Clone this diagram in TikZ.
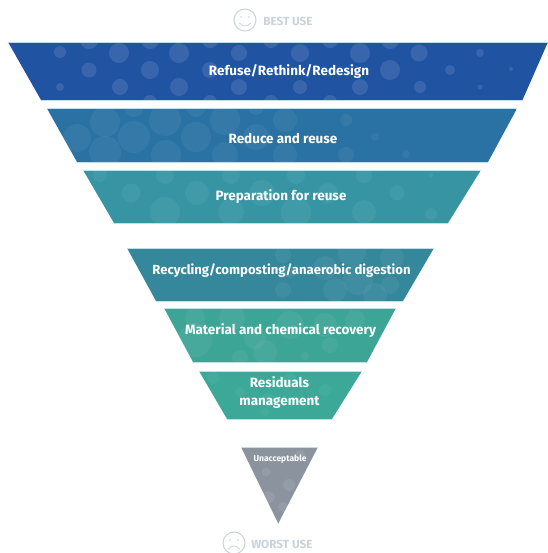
\documentclass[tikz,border=0pt]{standalone}
\usepackage{fontspec}
\setmainfont{Fira Sans}
\definecolor{tone1}{HTML}{2153A3}
\definecolor{tone2}{HTML}{2A72A3}
\definecolor{tone3}{HTML}{3795A3}
\definecolor{tone4}{HTML}{35879B}
\definecolor{tone5}{HTML}{3DA596}
\definecolor{tone6}{HTML}{3BA898}
\definecolor{tone7}{HTML}{8B949E}
\definecolor{edgelight}{HTML}{BFE0EA}
\definecolor{mutedgray}{HTML}{CBD3DA}
\tikzset{
  bubble/.style={fill=white,fill opacity=#1,draw=none},
  bubble/.default=0.10,
  tier/.style={text=white,font=\bfseries\fontsize{10.1pt}{13pt}\selectfont,align=center,inner sep=0pt},
  facering/.style={draw=mutedgray,line width=0.75pt},
  facestroke/.style={draw=mutedgray,line width=0.6pt,line cap=round},
  usetag/.style={text=mutedgray,font=\bfseries\fontsize{8.8pt}{9pt}\selectfont,inner sep=0pt,anchor=west},
  rimline/.style={draw=edgelight,line width=0.6pt}
}
\newcommand{\tierband}[9]{%
  \begin{scope}
    \clip (#3,#2) -- (#4,#2) -- (#7,#5) -- (#6,#5) -- cycle;
    \fill[#1] (#3,#2) rectangle (#4,#5);
    \foreach \bx/\by/\br in {#8} {\fill[bubble=#9] (\bx,\by) circle[radius=\br];}
  \end{scope}
  \draw[rimline] (#3,#2) -- (#4,#2);
  \draw[rimline] (#6,#5) -- (#7,#5);
}
\begin{document}
\begin{tikzpicture}[x=0.75pt,y=-0.75pt]
\useasboundingbox (0,0) rectangle (548,553);
\fill[white] (0,0) rectangle (548,553);

\tierband{tone1}{42}{8}{548}{100}{41}{522.5}{60/52/6,119/53/10,179/53/10,239/53/8,300/53/9,360/53/10,419/53/8.5,480/53/4,89/70/7.5,150/70/9,210/70/8,390/70/10,450/70/5,511/69/2,60/87/4,120/87/8,179/87/9,239/87/8,300/87/7,360/87/8,420/87/6,480/87/2.5,89/40/9,150/40/9,210/40/8,271/40/8,330/40/8,390/40/9,150/102/7,210/102/7,271/102/7,330/102/7}{0.11}

\tierband{tone2}{108.5}{47}{517}{162}{77}{488}{77/138/14,105/122/15,134/137/16,165/120/16,196/137/15,225/120/15,256/137/13,285/120/12,346/120/6,375/137/4,406/154/4,105/152/16,166/155/15,225/155/13,285/155/12,346/155/8,134/107/10,196/107/10,256/107/8}{0.05}

\tierband{tone3}{170}{83}{481}{223}{114}{448}{131/193/9.5,197/193/12,262/193/13,328/193/10,397/193/7.5,165/212/15,231/212/13,296/212/15,364/212/12,431/214/6,100/175/7,165/175/9,231/175/9,296/175/9,364/175/8,431/175/2.5}{0.05}

\tierband{tone4}{248}{127}{434}{301}{156}{403}{283/255/8,290/272/6,325/268/12,352/252/14,358/280/15,392/258/12,335/290/12,375/295/12,283/290/8,390/285/9}{0.05}

\tierband{tone5}{308}{164}{396}{362}{193}{367}{195/340/17,195/318/10,232/318/13,255/338/11,265/352/12,290/325/14,325/325/12,330/345/8,355/320/10,240/358/8,305/356/4}{0.05}

\tierband{tone6}{371}{199}{362}{419}{227}{332}{213/378/6,240/392/5,268/400/7,290/380/7,325/390/6,265/412/4}{0.05}

\tierband{tone7}{447}{241}{318}{523}{278}{278.5}{266/472/4.5,289/485/6,269/497/6,283/507/5,300/455/5}{0.08}

\node[tier] (refuse) at (289,71) {Refuse/Rethink/Redesign};
\node[tier] (reduce) at (283,138.5) {Reduce and reuse};
\node[tier] (prep) at (281,196.5) {Preparation for reuse};
\node[tier,font=\bfseries\fontsize{9.85pt}{13pt}\selectfont] (recycle) at (281.5,270.5) {Recycling/composting/anaerobic digestion};
\node[tier] (material) at (280.5,330.5) {Material and chemical recovery};
\node[tier] (residual) at (279.5,392.5) {Residuals\\management};
\node[text=white,font=\bfseries\fontsize{6.4pt}{7pt}\selectfont,inner sep=0pt] (unaccept) at (280,459) {Unacceptable};

% best use
\draw[facering] (245,20) circle[radius=11];
\fill[mutedgray] (241,17) circle[radius=0.8] (249,17) circle[radius=0.8];
\draw[facestroke] (239.5,23) .. controls (242,27) and (248,27) .. (250.5,23);
\node[usetag] (best) at (263,21.5) {BEST USE};

% worst use
\draw[facering] (234,543) circle[radius=11];
\fill[mutedgray] (230,540) circle[radius=0.8] (238,540) circle[radius=0.8];
\draw[facestroke] (228.5,549) .. controls (231,545) and (237,545) .. (239.5,549);
\node[usetag] (worst) at (251,544.5) {WORST USE};
\end{tikzpicture}
\end{document}
